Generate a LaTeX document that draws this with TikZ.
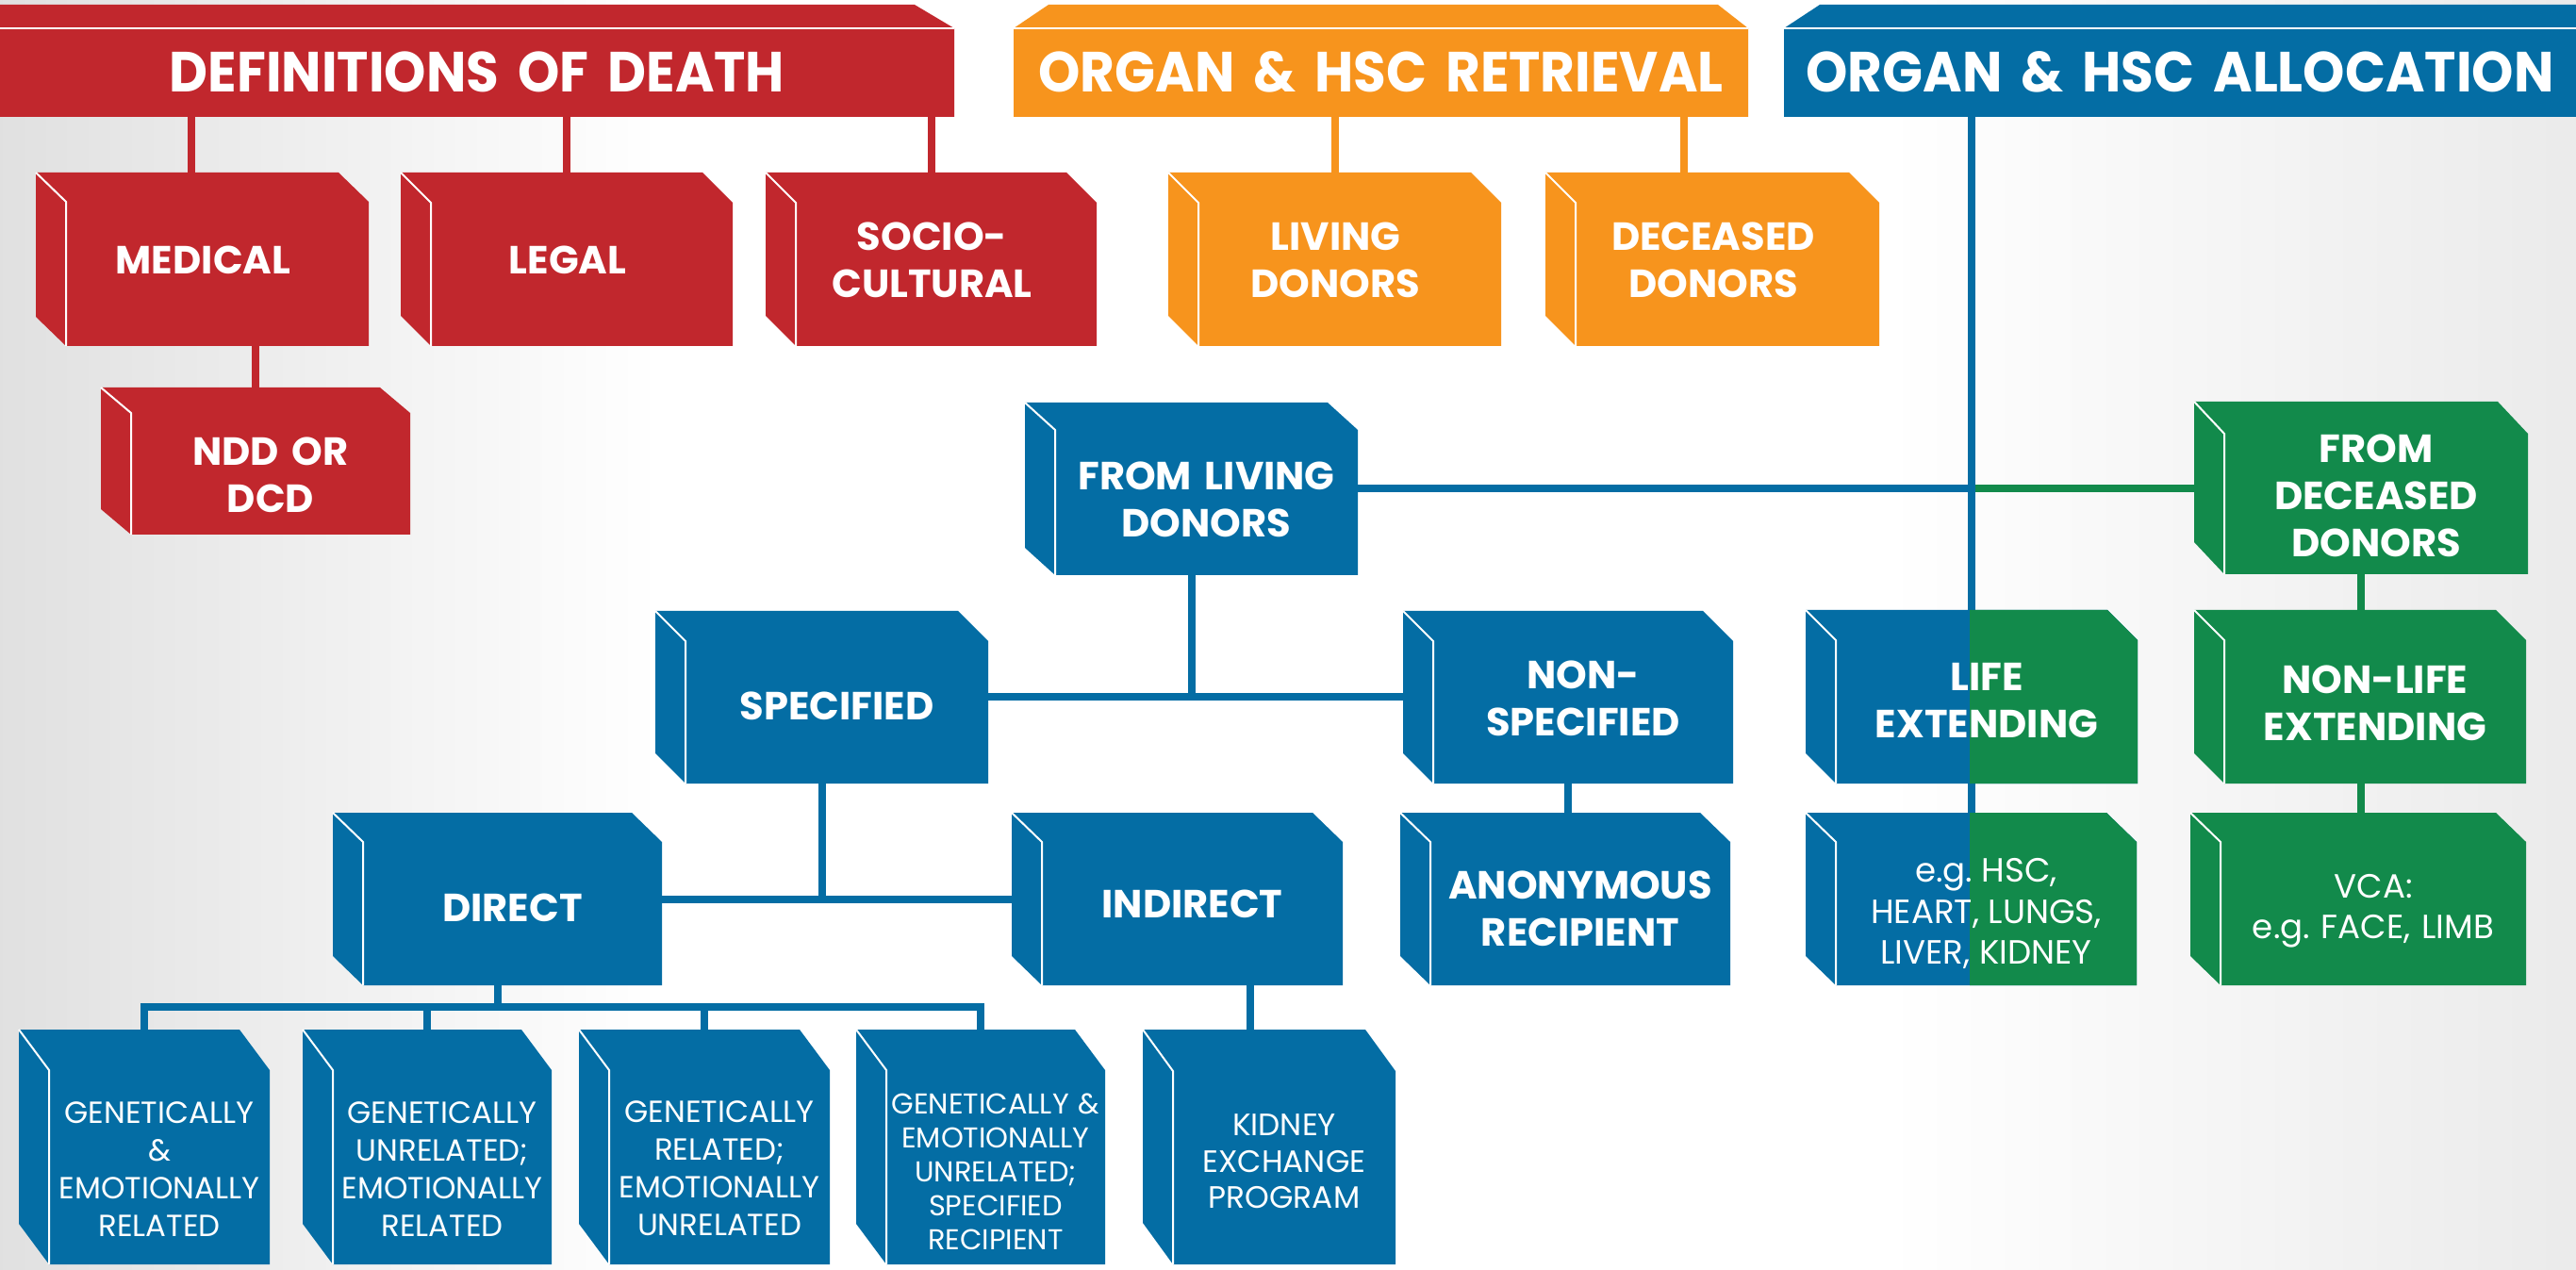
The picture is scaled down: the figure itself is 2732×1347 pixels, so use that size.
\documentclass[tikz,border=0pt]{standalone}
\usepackage{fontspec}
\setmainfont{Poppins}
\newfontfamily\headfont{Poppins}[FakeStretch=0.94]
\frenchspacing
\usetikzlibrary{fit,calc}

\definecolor{deathred}{HTML}{C1272D}
\definecolor{retrorange}{HTML}{F7941D}
\definecolor{allocblue}{HTML}{046DA4}
\definecolor{deadgreen}{HTML}{128A4B}

\pgfdeclarelayer{bg}
\pgfdeclarelayer{links}
\pgfsetlayers{bg,links,main}

% 3D block: [depth]{name}{colour}{x1}{y1}{x2}{y2}{style}{text}, front face (x1,y1)-(x2,y2)
\newcommand{\pblock}[9][32]{%
  \fill[#3] (#4,#7) -- ++(-32,-#1) -- (#4-32,#5-#1) -- (#6-32,#5-#1) -- (#6,#5) -- (#6,#7) -- cycle;
  \draw[white, line width=0.5pt] (#4-32,#5-#1) -- (#4,#5) -- (#4,#7);
  \node[fit={(#4,#5) (#6,#7)}, inner sep=0, align=center, #8] (#2) {#9};
  \coordinate (#2-mid) at ({(#4+#6)/2-16},{(#5+#7)/2-#1/2});
}

\begin{document}
\begin{tikzpicture}[x=0.25pt, y=-0.25pt,
    link/.style={line width=2pt, draw=#1},
    nudge/.style 2 args={xshift={#1*0.25pt}, yshift={-#2*0.25pt}},
    hd/.style={text=white, align=center, font=\headfont\bfseries\fontsize{15}{18}\selectfont},
    bx/.style={text=white, font=\bfseries\fontsize{10.4}{12.5}\selectfont},
    lt/.style={text=white, font=\fontsize{8.1}{10}\selectfont},
    egfont/.style={font=\fontsize{8.9}{10.8}\selectfont}]
\useasboundingbox (0,0) rectangle (2732,1347);

% Background
\begin{pgfonlayer}{bg}
  \fill[white] (0,0) rectangle (2732,1347);
  \shade[left color=black!12, right color=white] (0,0) rectangle (700,1347);
  \shade[left color=white, right color=black!8] (2000,0) rectangle (2732,1347);
\end{pgfonlayer}

% Headers
\fill[deathred] (0,5) -- (970,5) -- (1012,30) -- (1012,124) -- (0,124) -- cycle;
\draw[white, line width=0.5pt] (0,30) -- (1012,30);
\node[fit={(0,30) (1012,124)}, inner sep=0, hd, nudge={0}{21}] (death) {DEFINITIONS OF DEATH};

\fill[retrorange] (1075,30) -- (1112,5) -- (1822,5) -- (1854,30) -- (1854,124) -- (1075,124) -- cycle;
\draw[white, line width=0.5pt] (1075,30) -- (1854,30);
\node[fit={(1075,30) (1854,124)}, inner sep=0, hd, nudge={0}{21}] (retr) {ORGAN \& HSC RETRIEVAL};

\fill[allocblue] (1892,30) -- (1930,5) -- (2732,5) -- (2732,124) -- (1892,124) -- cycle;
\draw[white, line width=0.5pt] (1892,30) -- (2732,30);
\node[fit={(1892,30) (2732,124)}, inner sep=0, hd, nudge={0}{21}] (alloc) {ORGAN \& HSC ALLOCATION};

% Definitions of death
\pblock[31]{medical}{deathred}{70}{214}{391}{367}{bx, nudge={-15}{0}}{MEDICAL}
\pblock{legal}{deathred}{457}{215}{777}{367}{bx, nudge={-15}{0}}{LEGAL}
\pblock{socio}{deathred}{844}{215}{1163}{367}{bx, nudge={-15}{0}}{SOCIO-\\CULTURAL}
\pblock[27]{ndd}{deathred}{139}{438}{435}{567}{bx, nudge={0}{16}}{NDD OR\\DCD}

% Retrieval
\pblock{living}{retrorange}{1271}{215}{1592}{367}{bx, nudge={-15}{0}}{LIVING\\DONORS}
\pblock{deceased}{retrorange}{1671}{215}{1993}{367}{bx, nudge={-15}{0}}{DECEASED\\DONORS}

% Allocation, living donors
\pblock[29]{fromliving}{allocblue}{1119}{456}{1440}{610}{bx, nudge={0}{12}}{FROM LIVING\\DONORS}
\pblock{specified}{allocblue}{727}{680}{1048}{831}{bx, nudge={0}{8}}{SPECIFIED}
\pblock{nonspec}{allocblue}{1520}{680}{1838}{831}{bx}{NON-\\SPECIFIED}
\pblock[31]{direct}{allocblue}{385}{893}{702}{1045}{bx, nudge={0}{9}}{DIRECT}
\pblock[31]{indirect}{allocblue}{1105}{893}{1424}{1045}{bx, nudge={0}{5}}{INDIRECT}
\pblock[31]{anon}{allocblue}{1517}{893}{1835}{1045}{bx, nudge={0}{10}}{ANONYMOUS\\RECIPIENT}

\pblock[43]{gen1}{allocblue}{52}{1135}{286}{1341}{lt, nudge={0}{13}}{GENETICALLY\\\&\\EMOTIONALLY\\RELATED}
\pblock[43]{gen2}{allocblue}{353}{1135}{585}{1341}{lt, nudge={0}{13}}{GENETICALLY\\UNRELATED;\\EMOTIONALLY\\RELATED}
\pblock[43]{gen3}{allocblue}{646}{1135}{880}{1341}{lt, nudge={0}{13}}{GENETICALLY\\RELATED;\\EMOTIONALLY\\UNRELATED}
\pblock[43]{gen4}{allocblue}{940}{1135}{1172}{1341}{lt, font=\fontsize{7.6}{9}\selectfont, nudge={0}{16}}{GENETICALLY \&\\EMOTIONALLY\\UNRELATED;\\SPECIFIED\\RECIPIENT}
\pblock[44]{kidney}{allocblue}{1244}{1136}{1480}{1341}{lt, font=\fontsize{8.2}{9.6}\selectfont, nudge={0}{5}}{KIDNEY\\EXCHANGE\\PROGRAM}

% Life extending (half blue, half green)
\pblock{life}{allocblue}{1947}{679}{2267}{831}{bx}{}
\fill[deadgreen] (2089,647) -- (2235,647) -- (2267,679) -- (2267,831) -- (2089,831) -- cycle;
\node[bx, align=center, nudge={0}{-12}] (lifetext) at (life) {LIFE\\EXTENDING};
\pblock[31]{eg}{allocblue}{1947}{893}{2266}{1045}{lt}{}
\fill[deadgreen] (2089,862) -- (2234,862) -- (2266,893) -- (2266,1045) -- (2089,1045) -- cycle;
\node[lt, egfont, align=center] (egtext) at (eg) {e.g. HSC,\\HEART, LUNGS,\\LIVER, KIDNEY};

% Allocation, deceased donors
\pblock[34]{fromdeceased}{deadgreen}{2359}{460}{2681}{609}{bx, nudge={0}{6}}{FROM\\DECEASED\\DONORS}
\pblock{nonlife}{deadgreen}{2359}{679}{2679}{831}{bx, nudge={0}{6}}{NON-LIFE\\EXTENDING}
\pblock[31]{vca}{deadgreen}{2355}{893}{2679}{1045}{lt, egfont, nudge={0}{10}}{VCA:\\e.g. FACE, LIMB}

% Connectors
\begin{pgfonlayer}{links}
  \coordinate (meddrop) at ([xshift=-3pt]medical-mid);
  \coordinate (decdrop) at ([xshift=-7.5pt]deceased-mid);
  \coordinate (kiddrop) at ([xshift=-5pt]kidney-mid);
  \coordinate (bus) at (0,1068);

  \foreach \n in {meddrop,legal-mid,socio-mid}
    \draw[link=deathred] (death -| \n) -- (\n);
  \draw[link=deathred] (ndd-mid |- medical-mid) -- (ndd-mid);
  \foreach \n in {living-mid,decdrop}
    \draw[link=retrorange] (retr -| \n) -- (\n);

  \draw[link=deadgreen] (fromliving-mid -| eg-mid) -- (fromdeceased-mid |- fromliving-mid);
  \draw[link=allocblue] (fromliving-mid) -- (fromliving-mid -| eg-mid);
  \draw[link=allocblue] (alloc -| eg-mid) -- (eg-mid);
  \draw[link=allocblue] (fromliving-mid) -- (fromliving-mid |- specified-mid);
  \draw[link=allocblue] (specified-mid) -- (nonspec-mid);
  \draw[link=allocblue] (nonspec-mid) -- (nonspec-mid |- anon-mid);
  \draw[link=allocblue] (specified-mid) -- (specified-mid |- direct-mid);
  \draw[link=allocblue] (direct-mid) -- (indirect-mid);
  \draw[link=allocblue] (kiddrop |- indirect-mid) -- (kiddrop);

  \draw[link=allocblue] (direct-mid) -- (direct-mid |- bus);
  \draw[link=allocblue, line cap=rect] (gen1-mid |- bus) -- (gen4-mid |- bus);
  \foreach \n in {gen1,gen2,gen3,gen4}
    \draw[link=allocblue] (\n-mid |- bus) -- (\n-mid);

  \draw[link=deadgreen] (fromdeceased-mid) -- (fromdeceased-mid |- vca-mid);
\end{pgfonlayer}
\end{tikzpicture}
\end{document}
